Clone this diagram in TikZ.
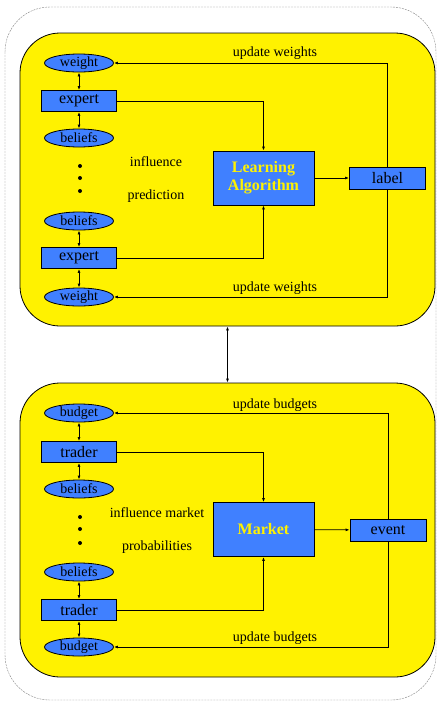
\documentclass[tikz,border=0pt]{standalone}
\usepackage{xcolor}
\usepackage{fontspec}
\setmainfont{Liberation Serif}
\usepackage{tikz}
\usetikzlibrary{arrows}
\usetikzlibrary{arrows.meta}
\usetikzlibrary{shapes}
\usetikzlibrary{shapes.geometric}
\definecolor{boxblue}{HTML}{4080FF}
\tikzset{>={Latex[length=4pt,width=3pt]}}
\tikzstyle{panel} = [rectangle, draw=black, fill=yellow, rounded corners=40pt, minimum width=415pt, minimum height=293pt, inner sep=0pt]
\tikzstyle{agent} = [rectangle, draw=black, fill=boxblue, minimum width=75pt, minimum height=21pt, inner sep=0pt, font=\fontsize{16}{18}\selectfont]
\tikzstyle{oval} = [ellipse, draw=black, fill=boxblue, minimum width=69pt, minimum height=18pt, inner sep=0pt, font=\fontsize{14}{16}\selectfont]
\tikzstyle{core} = [rectangle, draw=black, fill=boxblue, minimum width=101pt, minimum height=54pt, inner sep=0pt, align=center, text=yellow, font=\fontsize{16}{18}\selectfont\bfseries]
\tikzstyle{outcome} = [rectangle, draw=black, fill=boxblue, minimum width=76pt, minimum height=22pt, inner sep=0pt, font=\fontsize{16}{18}\selectfont]
\tikzstyle{note} = [draw=none, font=\fontsize{14}{16}\selectfont]
\tikzstyle{dot} = [circle, fill=black, inner sep=0pt, minimum size=4pt]

\begin{document}
\begin{tikzpicture}[x=1pt, y=-1pt, line width=0.8pt]
\useasboundingbox (0,0) rectangle (437,702);
\draw [gray, line width=0.4pt, dash pattern=on 2pt off 1pt, rounded corners=45pt] (5,7) rectangle (436,700);
\node [panel] (P1) at (227.5,179.5) {};
\node [panel, minimum height=294pt] (P2) at (227.5,530) {};
\draw [<->] (P1.south) -- (P2.north);

\node [oval] (W1) at (79,63) {weight};
\node [agent] (E1) at (79,101) {expert};
\node [oval] (B1) at (79,138) {beliefs};
\node [dot] (D1) at (80,166) {};
\node [dot] (D2) at (80,178) {};
\node [dot] (D3) at (80,191) {};
\node [oval] (B2) at (79,221) {beliefs};
\node [agent] (E2) at (79,258) {expert};
\node [oval] (W2) at (79,297) {weight};
\node [core] (LA) at (263.5,178) {Learning\\Algorithm};
\node [outcome] (Lab) at (387.5,178) {label};
\node [note] (I1) at (156,162) {influence};
\node [note] (I2) at (156,196) {prediction};
\node [note] (U1) at (275,53) {update weights};
\node [note] (U2) at (275,288) {update weights};
\draw [<->] (W1) -- (E1);
\draw [<->] (E1) -- (B1);
\draw [<->] (B2) -- (E2);
\draw [<->] (E2) -- (W2);
\draw [->] (E1.east) -| (LA.north);
\draw [->] (E2.east) -| (LA.south);
\draw [->] (LA) -- (Lab);
\draw [->] (Lab.north) |- (W1.east);
\draw [->] (Lab.south) |- (W2.east);

\node [oval] (G1) at (79,413) {budget};
\node [agent] (T1) at (79,452) {trader};
\node [oval] (C1) at (79,489) {beliefs};
\node [dot] (D4) at (80,517) {};
\node [dot] (D5) at (80,529) {};
\node [dot] (D6) at (80,543) {};
\node [oval] (C2) at (79,572) {beliefs};
\node [agent] (T2) at (79,610) {trader};
\node [oval] (G2) at (79,647) {budget};
\node [core] (M) at (263.5,529.5) {Market};
\node [outcome] (Ev) at (388,530) {event};
\node [note] (I3) at (157,513) {influence market};
\node [note] (I4) at (157,547) {probabilities};
\node [note] (U3) at (275,405) {update budgets};
\node [note] (U4) at (275,638) {update budgets};
\draw [<->] (G1) -- (T1);
\draw [<->] (T1) -- (C1);
\draw [<->] (C2) -- (T2);
\draw [<->] (T2) -- (G2);
\draw [->] (T1.east) -| (M.north);
\draw [->] (T2.east) -| (M.south);
\draw [->] (M) -- (Ev);
\draw [->] (Ev.north) |- (G1.east);
\draw [->] (Ev.south) |- (G2.east);
\end{tikzpicture}
\end{document}
